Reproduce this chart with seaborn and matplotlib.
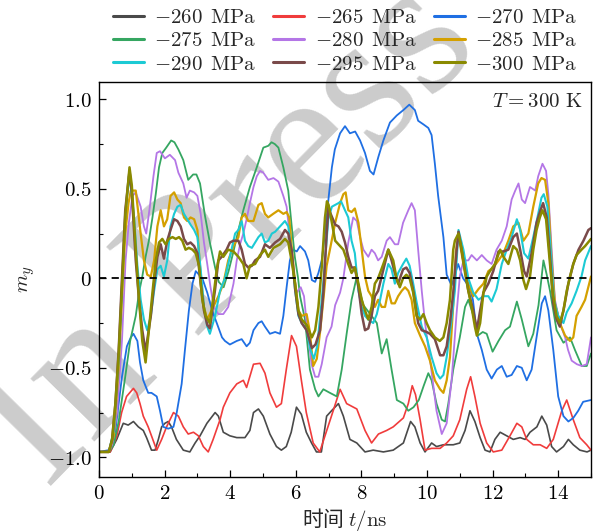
import pandas as pd
import matplotlib
matplotlib.use('Agg')
import matplotlib.pyplot as plt
from matplotlib.ticker import MultipleLocator, FuncFormatter
import seaborn as sns

# pressures (legend order) and line colours
pressures = [-260, -265, -270, -275, -280, -285, -290, -295, -300]
colors = ['#4a4a4a', '#f03c3c', '#1f6fe3', '#35a661', '#b476e6',
          '#d4a000', '#1ccad4', '#7a4a4a', '#8a8a00']

# m_y(t), t in ns
t_260 = [0, 0.34, 0.54, 0.74, 0.89, 1.05, 1.2, 1.35, 1.45, 1.6, 1.71, 1.81, 1.91, 2.01, 2.11,
         2.21, 2.36, 2.57, 2.77, 2.93, 3.08, 3.29, 3.54, 3.64, 3.79, 3.99, 4.2, 4.45, 4.6, 4.71,
         4.86, 5.01, 5.21, 5.41, 5.56, 5.71, 5.86, 6.02, 6.17, 6.32, 6.48, 6.63, 6.78, 6.94, 7.09,
         7.3, 7.45, 7.65, 7.86, 8.11, 8.36, 8.67, 8.97, 9.28, 9.5, 9.63, 9.79, 9.94, 10.14, 10.29,
         10.5, 10.8, 11.0, 11.16, 11.31, 11.46, 11.62, 11.77, 11.92, 12.07, 12.23, 12.43, 12.63, 12.84, 12.99,
         13.14, 13.35, 13.5, 13.65, 13.8, 13.95, 14.16, 14.31, 14.46, 14.66, 14.88, 15.0]
m_260 = [-0.97, -0.97, -0.90, -0.81, -0.82, -0.80, -0.83, -0.85, -0.89, -0.96, -0.96, -0.90, -0.83, -0.81, -0.80,
         -0.83, -0.90, -0.96, -0.97, -0.92, -0.88, -0.81, -0.75, -0.77, -0.86, -0.88, -0.89, -0.89, -0.85, -0.75,
         -0.73, -0.77, -0.87, -0.94, -0.96, -0.94, -0.86, -0.72, -0.76, -0.86, -0.92, -0.97, -0.97, -0.77, -0.74,
         -0.70, -0.77, -0.90, -0.92, -0.97, -0.96, -0.97, -0.96, -0.92, -0.80, -0.83, -0.92, -0.97, -0.92, -0.94,
         -0.93, -0.93, -0.92, -0.85, -0.74, -0.80, -0.89, -0.96, -0.97, -0.90, -0.86, -0.88, -0.90, -0.89, -0.90,
         -0.86, -0.83, -0.77, -0.82, -0.94, -0.97, -0.94, -0.90, -0.93, -0.96, -0.97, -0.96]

t_265 = [0, 0.34, 0.54, 0.69, 0.84, 1.05, 1.15, 1.25, 1.35, 1.5, 1.6, 1.76, 1.91, 2.06, 2.27,
         2.42, 2.57, 2.72, 2.88, 3.03, 3.18, 3.33, 3.48, 3.69, 3.79, 3.99, 4.2, 4.4, 4.5, 4.71,
         4.91, 5.06, 5.21, 5.41, 5.56, 5.71, 5.87, 6.02, 6.17, 6.32, 6.53, 6.73, 6.89, 7.14, 7.35,
         7.55, 7.86, 8.11, 8.31, 8.52, 8.77, 8.97, 9.28, 9.43, 9.55, 9.65, 9.79, 9.94, 10.14, 10.4,
         10.6, 10.8, 11.0, 11.21, 11.33, 11.46, 11.62, 11.82, 12.02, 12.28, 12.53, 12.74, 12.89, 13.04, 13.24,
         13.45, 13.65, 13.85, 14.11, 14.26, 14.46, 14.66, 14.87, 15.0]
m_265 = [-0.97, -0.97, -0.885, -0.75, -0.66, -0.615, -0.64, -0.70, -0.77, -0.83, -0.88, -0.96, -0.90, -0.83, -0.75,
         -0.77, -0.83, -0.87, -0.86, -0.88, -0.94, -0.97, -0.90, -0.79, -0.72, -0.64, -0.59, -0.57, -0.61, -0.48,
         -0.475, -0.53, -0.64, -0.72, -0.70, -0.51, -0.32, -0.38, -0.57, -0.75, -0.92, -0.97, -0.88, -0.74, -0.62,
         -0.70, -0.73, -0.85, -0.92, -0.87, -0.85, -0.83, -0.78, -0.70, -0.60, -0.65, -0.79, -0.96, -0.95, -0.95,
         -0.92, -0.88, -0.79, -0.62, -0.55, -0.66, -0.81, -0.92, -0.97, -0.96, -0.88, -0.81, -0.83, -0.90, -0.93,
         -0.93, -0.95, -0.90, -0.74, -0.68, -0.79, -0.89, -0.93, -0.96]

t_270 = [0, 0.3, 0.4, 0.5, 0.7, 0.85, 0.97, 1.05, 1.17, 1.25, 1.35, 1.5, 1.6, 1.76, 1.86,
         1.96, 2.11, 2.27, 2.37, 2.52, 2.62, 2.74, 2.85, 2.95, 3.05, 3.15, 3.3, 3.45, 3.59, 3.75,
         3.84, 3.99, 4.2, 4.35, 4.5, 4.6, 4.71, 4.86, 4.96, 5.06, 5.21, 5.37, 5.52, 5.62, 5.72,
         5.82, 5.92, 6.03, 6.13, 6.28, 6.38, 6.49, 6.59, 6.69, 6.79, 6.89, 7.0, 7.1, 7.19, 7.35,
         7.5, 7.65, 7.81, 7.96, 8.11, 8.26, 8.37, 8.52, 8.67, 8.87, 9.08, 9.28, 9.46, 9.63, 9.73,
         9.89, 10.04, 10.14, 10.24, 10.34, 10.5, 10.6, 10.75, 10.95, 11.1, 11.3, 11.4, 11.52, 11.67, 11.82,
         11.97, 12.13, 12.28, 12.43, 12.58, 12.74, 12.89, 13.04, 13.19, 13.34, 13.5, 13.6, 13.7, 13.85, 14.0,
         14.16, 14.31, 14.46, 14.61, 14.76, 15.0]
m_270 = [-0.97, -0.96, -0.93, -0.85, -0.55, -0.38, -0.33, -0.31, -0.35, -0.47, -0.57, -0.64, -0.64, -0.66, -0.74,
         -0.83, -0.84, -0.83, -0.75, -0.59, -0.40, -0.18, -0.03, 0.04, 0.02, 0.0, -0.08, -0.18, -0.25, -0.33,
         -0.35, -0.37, -0.35, -0.34, -0.38, -0.36, -0.29, -0.25, -0.24, -0.27, -0.31, -0.30, -0.31, -0.21, -0.05,
         0.10, 0.16, 0.15, 0.18, 0.15, 0.10, -0.01, -0.02, 0.03, 0.10, 0.25, 0.45, 0.62, 0.72, 0.81,
         0.85, 0.81, 0.82, 0.77, 0.70, 0.60, 0.58, 0.68, 0.77, 0.87, 0.91, 0.94, 0.97, 0.94, 0.88,
         0.86, 0.84, 0.80, 0.64, 0.46, 0.23, 0.02, -0.04, 0.08, 0.0, -0.05, -0.12, -0.31, -0.40, -0.51,
         -0.56, -0.51, -0.49, -0.55, -0.54, -0.49, -0.50, -0.57, -0.51, -0.33, -0.14, -0.10, -0.18, -0.40, -0.66,
         -0.77, -0.80, -0.78, -0.74, -0.69, -0.68]

t_275 = [0, 0.3, 0.45, 0.6, 0.8, 0.95, 1.12, 1.22, 1.32, 1.42, 1.52, 1.63, 1.73, 1.83, 1.93,
         2.05, 2.2, 2.3, 2.42, 2.57, 2.72, 2.87, 2.97, 3.08, 3.23, 3.38, 3.54, 3.65, 3.8, 3.95,
         4.1, 4.25, 4.4, 4.6, 4.81, 5.01, 5.16, 5.26, 5.36, 5.47, 5.62, 5.77, 5.87, 5.97, 6.07,
         6.13, 6.28, 6.43, 6.59, 6.69, 6.84, 7.04, 7.25, 7.4, 7.55, 7.7, 7.86, 7.96, 8.06, 8.31,
         8.47, 8.62, 8.77, 8.92, 9.08, 9.28, 9.43, 9.59, 9.75, 9.9, 10.04, 10.14, 10.29, 10.45, 10.55,
         10.65, 10.8, 11.0, 11.16, 11.26, 11.4, 11.55, 11.7, 11.82, 12.0, 12.18, 12.38, 12.53, 12.74, 12.89,
         13.09, 13.24, 13.4, 13.55, 13.65, 13.75, 13.95, 14.16, 14.36, 14.51, 14.72, 14.87, 15.0]
m_275 = [-0.97, -0.97, -0.93, -0.80, -0.55, -0.35, -0.21, -0.08, 0.01, 0.12, 0.21, 0.34, 0.47, 0.62, 0.70,
         0.73, 0.77, 0.76, 0.72, 0.66, 0.55, 0.58, 0.58, 0.53, 0.35, 0.20, 0.06, -0.02, -0.05, 0.04,
         0.15, 0.27, 0.38, 0.51, 0.62, 0.73, 0.74, 0.76, 0.75, 0.73, 0.62, 0.49, 0.30, 0.12, 0.0,
         -0.10, -0.23, -0.51, -0.62, -0.66, -0.62, -0.64, -0.66, -0.51, -0.31, -0.12, 0.01, -0.08, -0.15, -0.21,
         -0.25, -0.42, -0.34, -0.51, -0.68, -0.70, -0.74, -0.72, -0.68, -0.60, -0.53, -0.57, -0.70, -0.79, -0.80,
         -0.70, -0.51, -0.33, -0.16, -0.12, -0.20, -0.32, -0.30, -0.31, -0.41, -0.35, -0.29, -0.27, -0.13, -0.23,
         -0.38, -0.31, -0.15, 0.10, 0.02, -0.07, -0.29, -0.36, -0.33, -0.40, -0.49, -0.49, -0.42]

t_280 = [0, 0.3, 0.4, 0.55, 0.7, 0.81, 0.91, 1.02, 1.12, 1.27, 1.37, 1.44, 1.55, 1.66, 1.76,
         1.86, 2.01, 2.16, 2.32, 2.42, 2.57, 2.67, 2.77, 2.9, 3.0, 3.1, 3.2, 3.3, 3.4, 3.5,
         3.64, 3.79, 3.94, 4.1, 4.2, 4.3, 4.4, 4.5, 4.6, 4.71, 4.81, 4.91, 5.01, 5.16, 5.32,
         5.47, 5.62, 5.72, 5.82, 5.92, 6.03, 6.15, 6.25, 6.32, 6.48, 6.59, 6.69, 6.79, 6.94, 7.09,
         7.2, 7.35, 7.45, 7.6, 7.75, 7.86, 7.96, 8.06, 8.21, 8.31, 8.41, 8.51, 8.62, 8.77, 8.87,
         9.02, 9.12, 9.27, 9.43, 9.53, 9.63, 9.73, 9.84, 9.94, 10.09, 10.29, 10.45, 10.6, 10.75, 10.9,
         11.0, 11.11, 11.26, 11.36, 11.52, 11.67, 11.82, 11.97, 12.12, 12.28, 12.43, 12.58, 12.69, 12.79, 12.89,
         12.99, 13.14, 13.3, 13.39, 13.52, 13.63, 13.7, 13.8, 13.9, 14.05, 14.21, 14.3, 14.41, 14.57, 14.72,
         14.87, 15.0]
m_280 = [-0.97, -0.97, -0.93, -0.75, -0.35, 0.10, 0.31, 0.46, 0.48, 0.40, 0.29, 0.25, 0.40, 0.57, 0.70,
         0.71, 0.67, 0.69, 0.66, 0.59, 0.53, 0.45, 0.49, 0.48, 0.46, 0.36, 0.20, 0.08, -0.05, -0.16,
         -0.20, -0.20, -0.16, -0.03, 0.10, 0.19, 0.25, 0.33, 0.42, 0.51, 0.57, 0.60, 0.59, 0.55, 0.56,
         0.54, 0.46, 0.40, 0.23, 0.05, -0.08, -0.05, -0.10, -0.23, -0.48, -0.55, -0.55, -0.48, -0.33, -0.27,
         -0.15, -0.08, 0.0, 0.20, 0.34, 0.32, 0.23, 0.16, 0.12, 0.16, 0.14, 0.10, 0.12, 0.21, 0.23,
         0.19, 0.19, 0.31, 0.38, 0.42, 0.38, 0.16, -0.07, -0.25, -0.45, -0.74, -0.87, -0.81, -0.57, -0.20,
         0.01, 0.10, 0.10, 0.13, 0.10, 0.13, 0.10, 0.08, 0.16, 0.21, 0.29, 0.44, 0.49, 0.53, 0.44,
         0.42, 0.51, 0.49, 0.57, 0.64, 0.60, 0.47, 0.16, -0.12, -0.25, -0.33, -0.40, -0.46, -0.48, -0.49,
         -0.48, -0.33]

t_285 = [0, 0.3, 0.45, 0.6, 0.7, 0.8, 0.9, 0.97, 1.12, 1.27, 1.37, 1.47, 1.58, 1.68, 1.78,
         1.88, 1.98, 2.08, 2.18, 2.29, 2.39, 2.49, 2.59, 2.69, 2.79, 2.9, 3.0, 3.1, 3.2, 3.3,
         3.43, 3.64, 3.79, 3.94, 4.1, 4.25, 4.35, 4.45, 4.55, 4.71, 4.86, 4.96, 5.06, 5.16, 5.31,
         5.47, 5.62, 5.72, 5.8, 5.87, 5.98, 6.08, 6.18, 6.33, 6.43, 6.53, 6.64, 6.74, 6.84, 6.94,
         7.04, 7.2, 7.35, 7.45, 7.52, 7.6, 7.7, 7.8, 7.91, 8.01, 8.11, 8.21, 8.31, 8.41, 8.51,
         8.62, 8.72, 8.82, 8.92, 9.02, 9.12, 9.23, 9.33, 9.43, 9.53, 9.63, 9.79, 9.94, 10.09, 10.24,
         10.4, 10.5, 10.6, 10.7, 10.8, 10.88, 10.96, 11.11, 11.26, 11.41, 11.57, 11.72, 11.87, 12.02, 12.18,
         12.33, 12.48, 12.63, 12.79, 12.94, 13.09, 13.24, 13.39, 13.49, 13.6, 13.7, 13.8, 13.9, 14.05, 14.21,
         14.36, 14.46, 14.56, 14.71, 14.82, 15.0]
m_285 = [-0.97, -0.97, -0.88, -0.50, -0.10, 0.25, 0.42, 0.49, 0.49, 0.25, 0.10, 0.02, 0.01, 0.10, 0.29,
         0.38, 0.29, 0.33, 0.46, 0.48, 0.44, 0.42, 0.34, 0.32, 0.34, 0.33, 0.27, 0.01, -0.16, -0.23,
         -0.18, -0.10, -0.03, 0.10, 0.18, 0.23, 0.34, 0.36, 0.32, 0.32, 0.41, 0.42, 0.36, 0.34, 0.36,
         0.38, 0.36, 0.37, 0.34, 0.18, -0.03, -0.18, -0.21, -0.20, -0.30, -0.49, -0.45, -0.30, -0.12, 0.07,
         0.16, 0.31, 0.42, 0.47, 0.48, 0.38, 0.37, 0.39, 0.31, 0.16, 0.01, -0.07, -0.10, -0.16, -0.12,
         -0.16, -0.16, -0.07, -0.14, -0.14, -0.10, -0.07, -0.05, -0.07, -0.12, -0.25, -0.32, -0.38, -0.46, -0.57,
         -0.62, -0.64, -0.57, -0.44, -0.15, 0.15, 0.24, 0.08, -0.03, -0.10, -0.06, -0.03, 0.04, 0.06, 0.10,
         0.14, 0.21, 0.29, 0.31, 0.21, 0.25, 0.40, 0.53, 0.56, 0.55, 0.42, 0.10, -0.14, -0.25, -0.32,
         -0.35, -0.33, -0.21, -0.16, -0.12, 0.01]

t_290 = [0, 0.3, 0.45, 0.6, 0.7, 0.8, 0.91, 1.0, 1.07, 1.17, 1.27, 1.37, 1.47, 1.58, 1.68,
         1.78, 1.88, 1.98, 2.08, 2.18, 2.29, 2.39, 2.49, 2.59, 2.69, 2.79, 2.9, 3.0, 3.1, 3.2,
         3.3, 3.38, 3.54, 3.69, 3.84, 3.99, 4.15, 4.25, 4.35, 4.45, 4.55, 4.66, 4.76, 4.86, 4.96,
         5.06, 5.16, 5.27, 5.37, 5.52, 5.67, 5.77, 5.87, 5.98, 6.08, 6.18, 6.33, 6.45, 6.55, 6.65,
         6.75, 6.85, 6.99, 7.1, 7.3, 7.38, 7.5, 7.6, 7.7, 7.8, 7.91, 8.01, 8.11, 8.21, 8.36,
         8.47, 8.57, 8.67, 8.82, 8.92, 9.02, 9.12, 9.27, 9.37, 9.47, 9.58, 9.69, 9.84, 9.99, 10.14,
         10.29, 10.4, 10.5, 10.6, 10.75, 10.85, 10.96, 11.11, 11.26, 11.41, 11.57, 11.72, 11.87, 11.97, 12.12,
         12.28, 12.43, 12.58, 12.74, 12.84, 12.96, 13.09, 13.24, 13.39, 13.49, 13.56, 13.67, 13.77, 13.87, 14.0,
         14.16, 14.26, 14.41, 14.56, 14.71, 14.82, 15.0]
m_290 = [-0.97, -0.97, -0.85, -0.45, -0.05, 0.35, 0.57, 0.47, 0.34, 0.07, -0.12, -0.23, -0.29, -0.21, -0.07,
         0.05, 0.07, 0.01, 0.10, 0.29, 0.36, 0.40, 0.41, 0.36, 0.33, 0.30, 0.27, 0.23, 0.05, -0.16,
         -0.27, -0.31, -0.21, -0.07, 0.0, 0.12, 0.25, 0.27, 0.32, 0.21, 0.18, 0.17, 0.20, 0.23, 0.25,
         0.20, 0.21, 0.25, 0.26, 0.29, 0.32, 0.29, 0.14, -0.07, -0.21, -0.25, -0.29, -0.40, -0.45, -0.38,
         -0.20, 0.0, 0.33, 0.40, 0.42, 0.43, 0.38, 0.34, 0.21, 0.14, -0.07, -0.16, -0.21, -0.23, -0.25,
         -0.20, -0.12, -0.03, 0.08, 0.05, -0.03, 0.03, 0.08, 0.11, 0.07, -0.03, -0.14, -0.27, -0.33, -0.44,
         -0.53, -0.56, -0.54, -0.44, -0.23, -0.07, 0.27, 0.16, 0.0, -0.08, -0.12, -0.10, -0.10, -0.13, -0.06,
         0.08, 0.16, 0.23, 0.33, 0.27, 0.14, 0.11, 0.23, 0.36, 0.45, 0.47, 0.40, 0.16, -0.12, -0.21,
         -0.25, -0.19, -0.14, -0.07, 0.01, 0.10, 0.18]

t_295 = [0, 0.3, 0.4, 0.5, 0.6, 0.7, 0.8, 0.93, 1.0, 1.12, 1.22, 1.32, 1.42, 1.58, 1.68,
         1.78, 1.88, 1.98, 2.08, 2.18, 2.29, 2.39, 2.49, 2.59, 2.69, 2.79, 2.9, 3.0, 3.1, 3.2,
         3.3, 3.38, 3.54, 3.64, 3.74, 3.89, 3.99, 4.1, 4.25, 4.35, 4.45, 4.55, 4.66, 4.76, 4.91,
         5.06, 5.21, 5.37, 5.52, 5.67, 5.77, 5.87, 5.98, 6.08, 6.18, 6.33, 6.49, 6.6, 6.74, 6.84,
         6.94, 7.0, 7.04, 7.2, 7.3, 7.4, 7.5, 7.6, 7.7, 7.8, 7.91, 8.01, 8.11, 8.21, 8.31,
         8.41, 8.51, 8.67, 8.82, 8.92, 9.02, 9.12, 9.27, 9.37, 9.47, 9.58, 9.73, 9.84, 9.99, 10.09,
         10.24, 10.4, 10.5, 10.6, 10.7, 10.8, 10.9, 10.96, 11.11, 11.26, 11.41, 11.52, 11.62, 11.72, 11.87,
         12.02, 12.18, 12.33, 12.48, 12.63, 12.74, 12.84, 12.96, 13.04, 13.19, 13.34, 13.46, 13.54, 13.65, 13.75,
         13.85, 13.95, 14.05, 14.16, 14.31, 14.46, 14.62, 14.77, 14.92, 15.0]
m_295 = [-0.97, -0.97, -0.90, -0.70, -0.40, 0.0, 0.38, 0.60, 0.48, 0.10, -0.12, -0.29, -0.41, -0.21, -0.03,
         0.12, 0.19, 0.11, 0.21, 0.27, 0.33, 0.32, 0.29, 0.22, 0.19, 0.20, 0.18, 0.14, -0.03, -0.18,
         -0.26, -0.28, -0.06, 0.10, 0.12, 0.16, 0.20, 0.21, 0.21, 0.16, 0.08, 0.06, 0.07, 0.10, 0.12,
         0.19, 0.17, 0.20, 0.22, 0.27, 0.25, 0.16, -0.06, -0.20, -0.25, -0.29, -0.39, -0.37, -0.29, -0.08,
         0.25, 0.40, 0.37, 0.30, 0.29, 0.26, 0.20, 0.12, 0.06, 0.06, -0.05, -0.20, -0.29, -0.28, -0.21,
         -0.10, -0.07, 0.05, 0.16, 0.10, 0.03, -0.03, 0.05, 0.06, 0.03, -0.07, -0.25, -0.29, -0.30, -0.31,
         -0.34, -0.43, -0.43, -0.38, -0.25, -0.08, 0.15, 0.26, 0.10, -0.07, -0.18, -0.29, -0.18, -0.08, -0.03,
         0.04, 0.15, 0.15, 0.16, 0.23, 0.25, 0.16, 0.04, 0.01, 0.14, 0.31, 0.38, 0.42, 0.34, 0.12,
         -0.14, -0.23, -0.27, -0.18, -0.03, 0.08, 0.16, 0.21, 0.27, 0.28]

t_300 = [0, 0.3, 0.4, 0.5, 0.6, 0.7, 0.8, 0.93, 1.0, 1.12, 1.22, 1.32, 1.42, 1.52, 1.63,
         1.73, 1.83, 1.93, 2.03, 2.13, 2.24, 2.34, 2.44, 2.54, 2.64, 2.74, 2.85, 2.95, 3.05, 3.15,
         3.25, 3.38, 3.49, 3.59, 3.69, 3.79, 3.94, 4.1, 4.25, 4.4, 4.5, 4.6, 4.76, 4.91, 5.06,
         5.16, 5.32, 5.52, 5.67, 5.77, 5.87, 5.98, 6.08, 6.18, 6.33, 6.49, 6.59, 6.69, 6.79, 6.89,
         6.95, 7.0, 7.1, 7.2, 7.35, 7.45, 7.6, 7.7, 7.8, 7.91, 8.01, 8.11, 8.21, 8.31, 8.41,
         8.51, 8.67, 8.82, 8.97, 9.07, 9.17, 9.27, 9.37, 9.47, 9.58, 9.68, 9.79, 9.89, 9.99, 10.09,
         10.24, 10.39, 10.5, 10.6, 10.7, 10.8, 10.85, 10.96, 11.06, 11.16, 11.26, 11.36, 11.46, 11.52, 11.62,
         11.72, 11.82, 11.92, 12.07, 12.23, 12.33, 12.48, 12.63, 12.74, 12.84, 12.94, 13.02, 13.14, 13.24, 13.34,
         13.44, 13.52, 13.63, 13.73, 13.83, 13.95, 14.05, 14.16, 14.26, 14.36, 14.46, 14.56, 14.71, 14.82, 15.0]
m_300 = [-0.97, -0.97, -0.90, -0.70, -0.42, -0.05, 0.35, 0.62, 0.52, 0.16, -0.12, -0.35, -0.47, -0.29, -0.08,
         0.10, 0.20, 0.22, 0.19, 0.22, 0.23, 0.22, 0.23, 0.21, 0.16, 0.17, 0.16, 0.14, 0.07, -0.12,
         -0.21, -0.25, -0.10, 0.05, 0.15, 0.12, 0.16, 0.15, 0.12, 0.08, 0.0, 0.07, 0.08, 0.13, 0.16,
         0.12, 0.17, 0.19, 0.22, 0.20, 0.10, -0.03, -0.18, -0.23, -0.26, -0.33, -0.29, -0.16, 0.06, 0.34,
         0.43, 0.41, 0.31, 0.21, 0.18, 0.16, 0.08, 0.03, 0.06, -0.03, -0.12, -0.18, -0.23, -0.16, -0.03,
         0.0, 0.08, 0.16, 0.10, 0.0, -0.05, 0.0, 0.02, 0.0, -0.08, -0.21, -0.23, -0.20, -0.25, -0.29,
         -0.33, -0.35, -0.33, -0.25, -0.12, 0.16, 0.21, 0.25, 0.16, 0.03, -0.07, -0.16, -0.27, -0.32, -0.25,
         -0.08, 0.01, 0.04, 0.08, 0.16, 0.12, 0.08, 0.18, 0.16, 0.10, -0.01, -0.06, 0.01, 0.16, 0.27,
         0.34, 0.38, 0.33, 0.12, -0.08, -0.21, -0.25, -0.18, -0.07, 0.01, 0.08, 0.13, 0.16, 0.18, 0.22]

times = [t_260, t_265, t_270, t_275, t_280, t_285, t_290, t_295, t_300]
values = [m_260, m_265, m_270, m_275, m_280, m_285, m_290, m_295, m_300]

frames = []
for p, t, m in zip(pressures, times, values):
    if len(t) != len(m):
        raise ValueError(f'{p}: {len(t)} vs {len(m)}')
    frames.append(pd.DataFrame({'t': t, 'm': m, 'p': p}))
df = pd.concat(frames, ignore_index=True)

sns.set_style('ticks')
plt.rcParams['font.family'] = ['DejaVu Serif', 'Noto Sans CJK SC']
plt.rcParams['mathtext.fontset'] = 'cm'

fig = plt.figure(figsize=(6, 5.32), dpi=100)
ax = fig.add_axes([0.165, 0.1034, 0.82, 0.7426])
ax.set_facecolor('none')

# watermark behind the axes
fig.text(0.385, 0.556, 'In Press', rotation=45.5, fontsize=140, color='#cccccc',
         family='Liberation Serif', ha='center', va='center', zorder=-1)

widths = [1.2, 1.2, 1.3, 1.3, 1.3, 1.6, 1.5, 1.8, 1.8]
for p, c, w in zip(pressures, colors, widths):
    sns.lineplot(data=df[df['p'] == p], x='t', y='m', color=c, linewidth=w,
                 estimator=None, sort=False, ax=ax, label=r'$%d\ \,\mathrm{MPa}$' % p)

ax.axhline(0, color='black', linestyle=(0, (4, 3)), linewidth=1.3, zorder=5)

ax.set_xlim(0, 15)
ax.set_ylim(-1.11, 1.097)
ax.xaxis.set_major_locator(MultipleLocator(2))
ax.xaxis.set_minor_locator(MultipleLocator(1))
ax.yaxis.set_major_locator(MultipleLocator(0.5))
ax.yaxis.set_minor_locator(MultipleLocator(0.25))
ax.xaxis.set_major_formatter(FuncFormatter(lambda v, pos: r'$%d$' % round(v)))
ax.yaxis.set_major_formatter(FuncFormatter(lambda v, pos: r'$0$' if abs(v) < 1e-9 else r'$%.1f$' % v))
ax.tick_params(which='both', direction='in', top=False, right=False, labelsize=15, colors='black')
ax.tick_params(which='major', length=5, width=0.9, pad=5)
ax.tick_params(which='minor', length=3, width=0.8)
for s in ax.spines.values():
    s.set_linewidth(1.0)
    s.set_color('black')

ax.set_xlabel(r'时间 $t/\mathrm{ns}$', fontsize=15, labelpad=2, fontfamily='Noto Sans CJK SC')
ax.set_ylabel(r'$m_y$', fontsize=15, labelpad=8)
ax.text(0.982, 0.975, r'$T = 300\ \mathrm{K}$', transform=ax.transAxes,
        ha='right', va='top', fontsize=15)

# legend: three rows filled across
handles, labels = ax.get_legend_handles_labels()
order = [0, 3, 6, 1, 4, 7, 2, 5, 8]
leg = ax.legend([handles[i] for i in order], [labels[i] for i in order], ncol=3,
                loc='lower center', bbox_to_anchor=(0.5, 1.0), frameon=False,
                fontsize=15, handlelength=1.5, handletextpad=0.5,
                columnspacing=0.8, labelspacing=0.2, borderaxespad=0.0)
for line in leg.get_lines():
    line.set_linewidth(2.2)

plt.savefig('out.png', dpi=100)
